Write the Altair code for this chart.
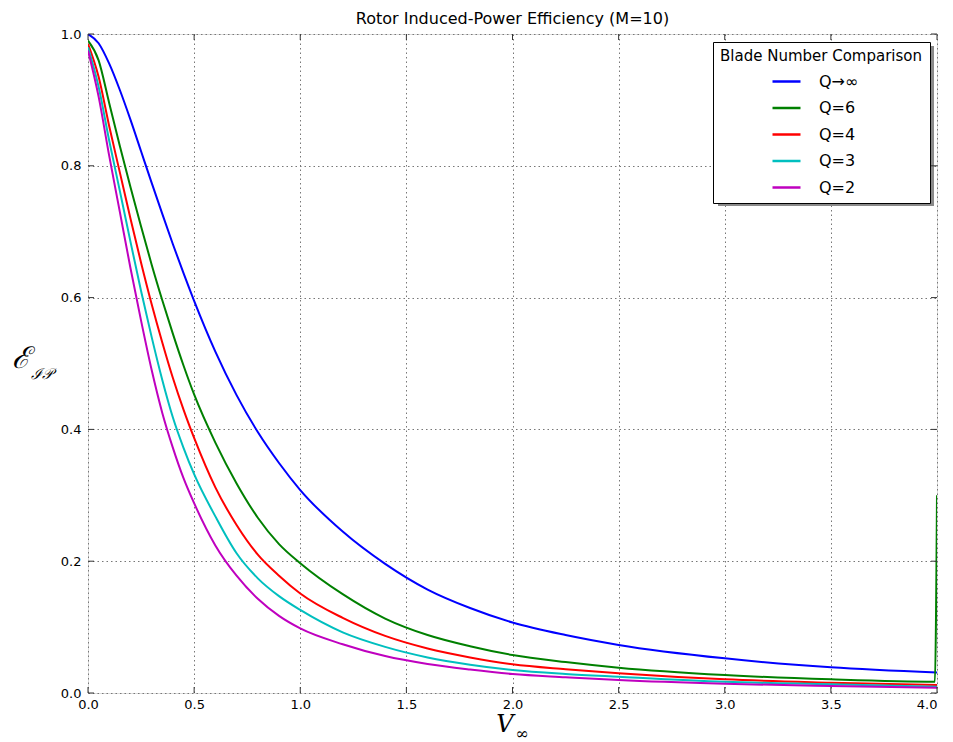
import altair as alt
import pandas as pd

# ---- data ----
series_names = ["Q→∞", "Q=6", "Q=4", "Q=3", "Q=2"]
series_colors = ["#0000ff", "#008000", "#ff0000", "#00bfbf", "#bf00bf"]

v_grid = [0.0, 0.05, 0.1, 0.15, 0.2, 0.25, 0.3, 0.35, 0.4, 0.45, 0.5, 0.6, 0.7, 0.8, 0.9, 1.0,
          1.2, 1.4, 1.6, 1.8, 2.0, 2.25, 2.5, 3.0, 3.5, 4.0]

e_qinf = [1.0, 0.986, 0.955, 0.915, 0.87, 0.822, 0.774, 0.727, 0.681, 0.637, 0.595, 0.518, 0.452,
          0.396, 0.349, 0.308, 0.245, 0.196, 0.157, 0.129, 0.107, 0.088, 0.073, 0.0526, 0.039, 0.031]
e_q6 = [0.99, 0.96, 0.895, 0.83, 0.768, 0.708, 0.65, 0.596, 0.545, 0.497, 0.453, 0.38, 0.318,
        0.266, 0.226, 0.197, 0.150, 0.113, 0.088, 0.071, 0.0577, 0.047, 0.0384, 0.0273, 0.0207, 0.017]
e_q4 = [0.985, 0.935, 0.86, 0.79, 0.72, 0.653, 0.59, 0.532, 0.478, 0.43, 0.387, 0.312, 0.255,
        0.21, 0.178, 0.151, 0.114, 0.0866, 0.0675, 0.054, 0.0435, 0.036, 0.0299, 0.0207, 0.0157, 0.012]
e_q3 = [0.98, 0.92, 0.838, 0.762, 0.685, 0.61, 0.54, 0.475, 0.418, 0.372, 0.332, 0.268, 0.212,
        0.174, 0.147, 0.126, 0.092, 0.07, 0.054, 0.043, 0.035, 0.029, 0.0247, 0.017, 0.0132, 0.0096]
e_q2 = [0.975, 0.905, 0.815, 0.73, 0.645, 0.565, 0.49, 0.425, 0.372, 0.326, 0.288, 0.224, 0.178,
        0.143, 0.117, 0.098, 0.074, 0.056, 0.044, 0.0356, 0.0288, 0.024, 0.0197, 0.014, 0.0105, 0.0078]

# the Q=6 curve jumps up at the very last sample (visible along the right spine)
v_q6_end = [3.99, 4.0]
e_q6_end = [0.0171, 0.3]

x_ticks = [0.0, 0.5, 1.0, 1.5, 2.0, 2.5, 3.0, 3.5, 4.0]
y_ticks = [0.0, 0.2, 0.4, 0.6, 0.8, 1.0]

# ---- build table ----
rows = []
for name, es in zip(series_names, [e_qinf, e_q6, e_q4, e_q3, e_q2]):
    vs = list(v_grid)
    es = list(es)
    if name == "Q=6":
        vs = vs[:-1] + v_q6_end
        es = es[:-1] + e_q6_end
    for i, (v, e) in enumerate(zip(vs, es)):
        rows.append({"V": v, "E": e, "series": name, "order": i})
df = pd.DataFrame(rows)
xt = pd.DataFrame({"t": x_ticks})
yt = pd.DataFrame({"t": y_ticks})

W, H = 849, 659
TL = 6
FONT = "DejaVu Sans"

xscale = alt.Scale(domain=[0, 4], nice=False, zero=False)
yscale = alt.Scale(domain=[0, 1], nice=False, zero=False)

lines = alt.Chart(df).mark_line(strokeWidth=2, interpolate="monotone", clip=True).encode(
    x=alt.X("V:Q", scale=xscale,
            axis=alt.Axis(values=x_ticks, format=".1f", title=None, ticks=False, domain=False,
                          grid=True, gridColor="#777", gridDash=[1.5, 3], gridWidth=1,
                          labelFlush=False,
                          labelAlign={"expr": "datum.value >= 4 ? 'right' : 'center'"},
                          labelFont=FONT, labelFontSize=13, labelColor="black", labelPadding=5)),
    y=alt.Y("E:Q", scale=yscale,
            axis=alt.Axis(values=y_ticks, format=".1f", title=None, ticks=False, domain=False,
                          grid=True, gridColor="#777", gridDash=[1.5, 3], gridWidth=1,
                          labelFlush=False,
                          labelFont=FONT, labelFontSize=13, labelColor="black", labelPadding=7)),
    color=alt.Color("series:N",
                    scale=alt.Scale(domain=series_names, range=series_colors),
                    legend=alt.Legend(title="Blade Number Comparison", orient="none",
                                      legendX=625, legendY=8, direction="vertical",
                                      symbolType="stroke", symbolSize=784, symbolStrokeWidth=2.5,
                                      symbolOffset=-13, labelOffset=17,
                                      labelFont=FONT, labelFontSize=16, labelColor="black",
                                      titleFont=FONT, titleFontSize=15, titleFontWeight="normal",
                                      titleColor="black", titleAnchor="middle", titlePadding=2,
                                      titleLimit=400,
                                      fillColor="white", strokeColor="black", padding=7,
                                      rowPadding=2.5, cornerRadius=0)),
    order="order:Q",
)

shadow = alt.Chart(pd.DataFrame({"a": [0]})).mark_rect(color="#8a8a8a").encode(
    x=alt.value(630), x2=alt.value(846), y=alt.value(12), y2=alt.value(172)
)

tick_color = "#333"
bt = alt.Chart(xt).mark_rule(color=tick_color, strokeWidth=1).encode(
    x=alt.X("t:Q", scale=xscale), y=alt.value(H), y2=alt.value(H - TL))
tt = alt.Chart(xt).mark_rule(color=tick_color, strokeWidth=1).encode(
    x=alt.X("t:Q", scale=xscale), y=alt.value(0), y2=alt.value(TL))
lt = alt.Chart(yt).mark_rule(color=tick_color, strokeWidth=1).encode(
    y=alt.Y("t:Q", scale=yscale), x=alt.value(0), x2=alt.value(TL))
rt = alt.Chart(yt).mark_rule(color=tick_color, strokeWidth=1).encode(
    y=alt.Y("t:Q", scale=yscale), x=alt.value(W - TL), x2=alt.value(W))

lab = pd.DataFrame({"a": [0]})
ytitle_main = alt.Chart(lab).mark_text(text="ℰ", font="DejaVu Serif", fontSize=30,
                                       fontStyle="italic", color="black", align="center",
                                       baseline="middle").encode(
    x=alt.value(-67), y=alt.value(325))
ytitle_sub = alt.Chart(lab).mark_text(text="ℐ𝒫", font="DejaVu Serif", fontSize=15,
                                      fontStyle="italic", color="black", align="center",
                                      baseline="middle").encode(
    x=alt.value(-46), y=alt.value(340))
xtitle_main = alt.Chart(lab).mark_text(text="V", font="DejaVu Serif", fontSize=24,
                                       fontStyle="italic", color="black", align="center",
                                       baseline="middle").encode(
    x=alt.value(417), y=alt.value(691))
xtitle_sub = alt.Chart(lab).mark_text(text="∞", font="DejaVu Serif", fontSize=16,
                                      color="black", align="center",
                                      baseline="middle").encode(
    x=alt.value(434), y=alt.value(700))

chart = alt.layer(lines, shadow, bt, tt, lt, rt, ytitle_main, ytitle_sub, xtitle_main, xtitle_sub).properties(
    width=W, height=H,
    title=alt.TitleParams("Rotor Induced-Power Efficiency (M=10)", font=FONT, fontSize=16,
                          fontWeight="normal", color="black", anchor="middle", offset=1),
    padding={"left": 80, "top": 26, "right": 8, "bottom": 49},
    autosize=alt.AutoSizeParams(type="none"),
).configure_view(stroke="#222", strokeWidth=1.2).configure(background="white")

chart.save("out.html", embed_options={"renderer": "svg", "actions": False})
